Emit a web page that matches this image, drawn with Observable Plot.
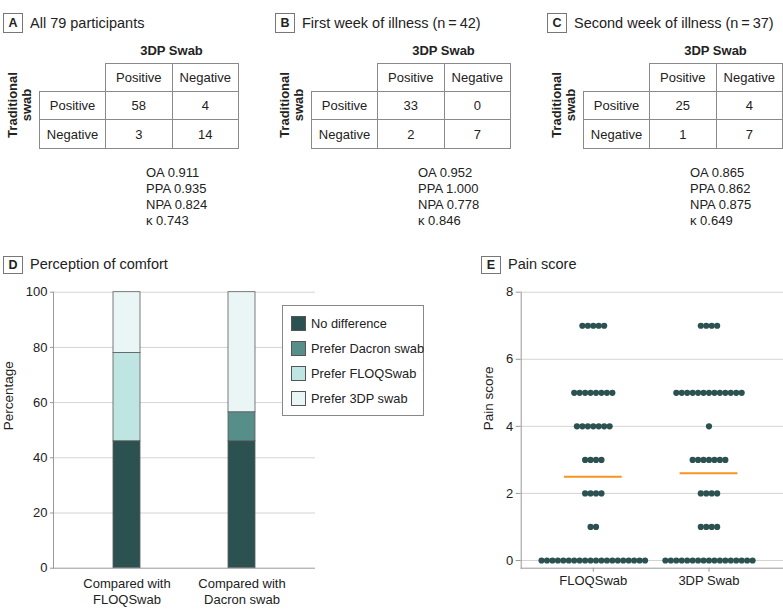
<!DOCTYPE html>
<html><head><meta charset="utf-8">
<script src="https://cdn.jsdelivr.net/npm/d3@7"></script>
<script src="https://cdn.jsdelivr.net/npm/@observablehq/plot@0.6"></script>
<style>
body{margin:0;background:#fff;font-family:"Liberation Sans",Arial,sans-serif;color:#222}
#root{position:relative;width:783px;height:616px;overflow:hidden;background:#fff}
.a{position:absolute;white-space:nowrap}
.lbox{position:absolute;box-sizing:border-box;border:1px solid #777;font-weight:bold;font-size:12.5px;text-align:center}
.cell{position:absolute;box-sizing:border-box;border:1px solid #8a8a8a;font-size:13px;text-align:center;display:flex;align-items:center;justify-content:center}
.ttl{position:absolute;font-size:14.5px;white-space:nowrap;line-height:20px}
svg{position:absolute}
</style>
</head><body><div id="root"></div>
<script>
// ---------- Data ----------
const tableLetters = ["A", "B", "C"];
const tableTitles = ["All 79 participants", "First week of illness (n\u2009=\u200942)", "Second week of illness (n\u2009=\u200937)"];
const colHeader = "3DP Swab";
const rowHeader = ["Traditional", "swab"];
const colLabels = ["Positive", "Negative"];
const rowLabels = ["Positive", "Negative"];
const countsA = [[58, 4], [3, 14]];
const countsB = [[33, 0], [2, 7]];
const countsC = [[25, 4], [1, 7]];
const statNames = ["OA", "PPA", "NPA", "\u03ba"];
const statsA = ["0.911", "0.935", "0.824", "0.743"];
const statsB = ["0.952", "1.000", "0.778", "0.846"];
const statsC = ["0.865", "0.862", "0.875", "0.649"];

const comparisons = ["Compared with\nFLOQSwab", "Compared with\nDacron swab"];
const responses = ["No difference", "Prefer Dacron swab", "Prefer FLOQSwab", "Prefer 3DP swab"];
const pctVsFLOQ = [46, 0, 32, 22];
const pctVsDacron = [46, 10.5, 0, 43.5];
const responseColors = ["#2b5251", "#578e8a", "#bfe5e2", "#eaf5f6"];

const swabs = ["FLOQSwab", "3DP Swab"];
const painScores = [0, 1, 2, 3, 4, 5, 7];
const countsFLOQ = [20, 2, 4, 4, 7, 8, 5];
const counts3DP = [17, 4, 4, 7, 1, 13, 4];
const painMeans = [2.5, 2.6];

// ---------- Layout helpers ----------
const root = document.getElementById("root");
function el(cls, style, html) {
  const d = document.createElement("div");
  d.className = cls;
  Object.assign(d.style, style);
  if (html !== undefined) d.innerHTML = html;
  root.appendChild(d);
  return d;
}
const FONT = '"Liberation Sans", Arial, sans-serif';

// ---------- Panels A-C (2x2 tables) ----------
const allCounts = [countsA, countsB, countsC];
const allStats = [statsA, statsB, statsC];
tableLetters.forEach((L, k) => {
  const ox = 39 + 272 * k;
  el("lbox", {left: (ox - 36) + "px", top: "13px", width: "20px", height: "20px", lineHeight: "18px"}, L);
  el("ttl", {left: (ox - 9) + "px", top: "13px"}, tableTitles[k]);
  el("a", {left: (ox + 66) + "px", top: "43px", width: "133px", textAlign: "center", fontWeight: "bold", fontSize: "13px", lineHeight: "16px"}, colHeader);
  el("a", {left: (ox - 59) + "px", top: "91px", width: "80px", height: "28px", textAlign: "center", fontWeight: "bold", fontSize: "13px", lineHeight: "13.5px", transform: "rotate(-90deg)"}, rowHeader.join("<br>"));
  const xs = [ox, ox + 66, ox + 132.5, ox + 199];
  const ys = [63, 91, 119, 148];
  colLabels.forEach((c, j) => {
    el("cell", {left: xs[j + 1] + "px", top: ys[0] + "px", width: (xs[j + 2] - xs[j + 1] + 1) + "px", height: (ys[1] - ys[0] + 1) + "px"}, c);
  });
  rowLabels.forEach((r, i) => {
    el("cell", {left: xs[0] + "px", top: ys[i + 1] + "px", width: (xs[1] - xs[0] + 1) + "px", height: (ys[i + 2] - ys[i + 1] + 1) + "px"}, r);
    allCounts[k][i].forEach((v, j) => {
      el("cell", {left: xs[j + 1] + "px", top: ys[i + 1] + "px", width: (xs[j + 2] - xs[j + 1] + 1) + "px", height: (ys[i + 2] - ys[i + 1] + 1) + "px"}, v);
    });
  });
  statNames.forEach((s, i) => {
    el("a", {left: (ox + 107) + "px", top: (165 + 16 * i) + "px", fontSize: "13px", lineHeight: "16px"}, s + " " + allStats[k][i]);
  });
});

// ---------- Panel D: perception of comfort ----------
el("lbox", {left: "3px", top: "256px", width: "20px", height: "18px", lineHeight: "16px"}, "D");
el("ttl", {left: "30px", top: "254px"}, "Perception of comfort");

const comfortRows = [];
[pctVsFLOQ, pctVsDacron].forEach((arr, ci) => {
  responses.forEach((r, ri) => {
    if (arr[ri] > 0) comfortRows.push({comparison: comparisons[ci], response: r, pct: arr[ri]});
  });
});

const plotD = Plot.plot({
  width: 320, height: 336,
  marginLeft: 53, marginRight: 5, marginTop: 11.7, marginBottom: 48.3,
  style: {fontFamily: FONT, fontSize: "13px", color: "#222", background: "transparent", overflow: "visible"},
  x: {domain: comparisons, paddingInner: 0.766, paddingOuter: 0.517, axis: null},
  y: {domain: [0, 100], axis: null},
  color: {domain: responses, range: responseColors},
  marks: [
    Plot.gridY([20, 40, 60, 80, 100], {stroke: "#d4d4d4", strokeOpacity: 1}),
    Plot.barY(comfortRows, {x: "comparison", y: "pct", fill: "response", stroke: "#5a5a5a", strokeWidth: 0.8}),
    Plot.ruleY([0], {stroke: "#999"}),
    Plot.frame({anchor: "left", stroke: "#999"}),
    Plot.axisY([0, 20, 40, 60, 80, 100], {tickSize: 3, tickPadding: 3, label: null, stroke: "#999", fontSize: 13}),
    Plot.axisX({tickSize: 0, tickPadding: 8, label: null, fontSize: 13, lineHeight: 1.23}),
    Plot.text(["Percentage"], {frameAnchor: "left", rotate: -90, dx: -45, fontSize: 13.5, fill: "#222"})
  ]
});
plotD.style.left = "0px";
plotD.style.top = "280px";
root.appendChild(plotD);

// legend for D
const leg = el("a", {left: "282px", top: "305px", width: "142px", height: "111px", boxSizing: "border-box", border: "1px solid #888", background: "#fff"});
responses.forEach((r, i) => {
  const row = document.createElement("div");
  Object.assign(row.style, {position: "absolute", left: "8px", top: (10 + 25 * i) + "px", height: "15px", display: "flex", alignItems: "center", fontSize: "12.8px", whiteSpace: "nowrap"});
  row.innerHTML = `<span style="display:inline-block;width:15px;height:15px;box-sizing:border-box;border:1px solid #555;background:${responseColors[i]};margin-right:5px"></span>${r}`;
  leg.appendChild(row);
});

// ---------- Panel E: pain score ----------
el("lbox", {left: "481px", top: "256px", width: "20px", height: "18px", lineHeight: "16px"}, "E");
el("ttl", {left: "508px", top: "254px"}, "Pain score");

const dotStep = 0.0471; // horizontal spacing of stacked dots, in category units
const painDots = [];
[countsFLOQ, counts3DP].forEach((arr, si) => {
  painScores.forEach((s, j) => {
    const n = arr[j];
    for (let k = 0; k < n; k++) painDots.push({x: si + (k - (n - 1) / 2) * dotStep, score: s});
  });
});
const meanRows = painMeans.map((m, i) => ({swab: i, mean: m}));

const plotE = Plot.plot({
  width: 323, height: 336,
  marginLeft: 60.7, marginRight: 0, marginTop: 11.7, marginBottom: 48.3,
  style: {fontFamily: FONT, fontSize: "13px", color: "#222", background: "transparent", overflow: "visible"},
  x: {domain: [-0.623, 1.644], axis: null},
  y: {domain: [-0.23, 8], axis: null},
  marks: [
    Plot.gridY([0, 2, 4, 6, 8], {stroke: "#d4d4d4", strokeOpacity: 1}),
    Plot.frame({anchor: "left", stroke: "#999"}),
    Plot.frame({anchor: "bottom", stroke: "#999"}),
    Plot.axisY([0, 2, 4, 6, 8], {tickSize: 5, tickPadding: 3, label: null, stroke: "#999", fontSize: 13}),
    Plot.axisX([0, 1], {tickFormat: i => swabs[i], tickSize: 4, tickPadding: 4, label: null, stroke: "#999", fontSize: 13}),
    Plot.dot(painDots, {x: "x", y: "score", r: 3.1, fill: "#2b5251", stroke: null}),
    Plot.ruleY(meanRows, {y: "mean", x1: d => d.swab - 0.25, x2: d => d.swab + 0.25, stroke: "#f7941d", strokeWidth: 2}),
    Plot.text(["Pain score"], {frameAnchor: "left", rotate: -90, dx: -32.5, fontSize: 13.5, fill: "#222"})
  ]
});
plotE.style.left = "460px";
plotE.style.top = "280px";
root.appendChild(plotE);
</script>
</body></html>
